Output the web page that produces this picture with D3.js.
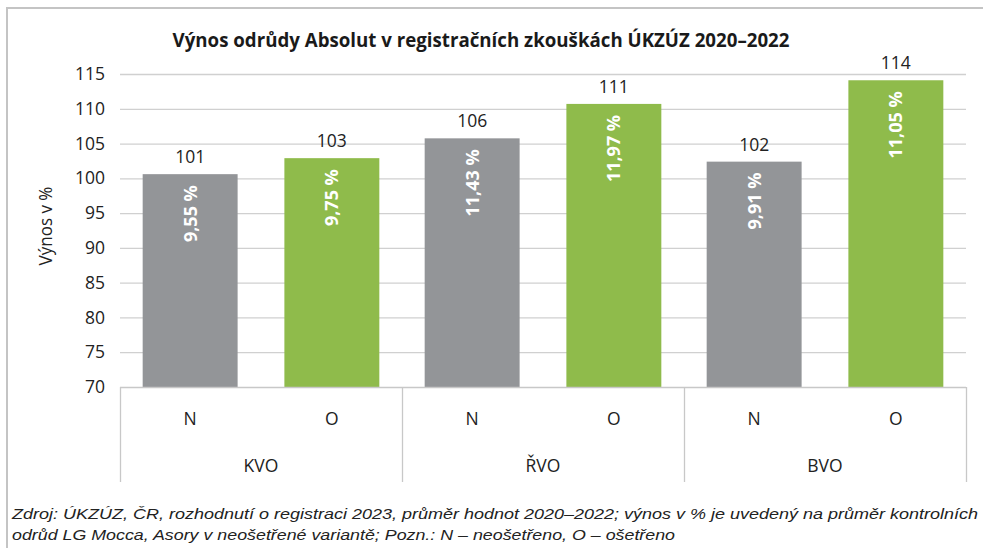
<!DOCTYPE html>
<html lang="cs">

<head>
    <meta charset="UTF-8" />
    <script type="text/javascript" src="https://cdn.jsdelivr.net/npm/d3@7"></script>
    <title>Výnos odrůdy Absolut</title>
    <style>
        body { margin: 0; background: #fff; }
        svg { display: block; }
    </style>
</head>

<body>
    <div id="chart"></div>

    <script type="text/javascript">
        // data
        var regions = ["KVO", "ŘVO", "BVO"];
        var variants = ["N", "O"];
        var yields = [100.6, 102.9, 105.75, 110.7, 102.4, 114.1];
        var valueLabels = ["101", "103", "106", "111", "102", "114"];
        var shareLabels = ["9,55 %", "9,75 %", "11,43 %", "11,97 %", "9,91 %", "11,05 %"];
        var yTicks = [70, 75, 80, 85, 90, 95, 100, 105, 110, 115];

        var W = 983, H = 548;
        var margin = { top: 74, right: 17, bottom: 161, left: 120 };
        var width = W - margin.left - margin.right,
            height = H - margin.top - margin.bottom;

        var colors = { N: "#939598", O: "#8fbb4b" };
        var font = "'Open Sans', sans-serif";

        var data = [];
        regions.forEach(function (r, i) {
            variants.forEach(function (v, j) {
                var k = i * variants.length + j;
                data.push({ region: r, variant: v, value: yields[k], label: valueLabels[k], share: shareLabels[k] });
            });
        });

        var svg = d3.select("#chart").append("svg")
            .attr("width", W)
            .attr("height", H);

        // frame
        svg.append("path")
            .attr("d", "M7,548V8H983")
            .attr("fill", "none")
            .attr("stroke", "#c4c4c4")
            .attr("stroke-width", 2);

        svg.append("text")
            .attr("x", 481)
            .attr("y", 47)
            .attr("text-anchor", "middle")
            .attr("font-family", font)
            .attr("font-weight", "bold")
            .attr("font-size", 19.5)
            .attr("fill", "#1a1a1a")
            .attr("textLength", 617)
            .attr("lengthAdjust", "spacingAndGlyphs")
            .text("Výnos odrůdy Absolut v registračních zkouškách ÚKZÚZ 2020–2022");

        var g = svg.append("g")
            .attr("transform", `translate(${margin.left}, ${margin.top})`);

        var y = d3.scaleLinear().domain([70, 115]).range([height, 0]);

        var x0 = d3.scaleBand().domain(regions).range([0, width]);
        var x1 = d3.scaleBand().domain(variants).range([0, x0.bandwidth()]).paddingInner(0.33).paddingOuter(0.16);

        // gridlines
        g.append("g")
            .selectAll("line")
            .data(yTicks.slice(1))
            .enter().append("line")
            .attr("x1", 0)
            .attr("x2", width)
            .attr("y1", d => y(d) + 0.5)
            .attr("y2", d => y(d) + 0.5)
            .attr("stroke", "#d0d0d0")
            .attr("stroke-width", 1.3);

        // y axis labels
        var yAxis = g.append("g")
            .call(d3.axisLeft(y).tickValues(yTicks).tickSize(0).tickPadding(15));
        yAxis.select(".domain").remove();
        yAxis.selectAll("text")
            .attr("font-family", font)
            .attr("font-size", 17.5)
            .attr("fill", "#222");

        g.append("text")
            .attr("transform", `translate(${46 - margin.left}, ${226 - margin.top}) rotate(-90) scale(0.92, 1)`)
            .attr("text-anchor", "middle")
            .attr("dy", "0.35em")
            .attr("font-family", font)
            .attr("font-size", 18.5)
            .attr("fill", "#222")
            .text("Výnos v %");

        // bars
        var bars = g.selectAll("g.bar")
            .data(data)
            .enter().append("g")
            .attr("class", "bar")
            .attr("transform", d => `translate(${x0(d.region) + x1(d.variant)}, 0)`);

        bars.append("rect")
            .attr("x", 0)
            .attr("y", d => y(d.value))
            .attr("width", x1.bandwidth())
            .attr("height", d => height - y(d.value))
            .attr("fill", d => colors[d.variant]);

        bars.append("text")
            .attr("x", x1.bandwidth() / 2)
            .attr("y", d => y(d.value) - 11)
            .attr("text-anchor", "middle")
            .attr("font-family", font)
            .attr("font-size", 17.5)
            .attr("fill", "#222")
            .text(d => d.label);

        bars.append("text")
            .attr("transform", d => `translate(${x1.bandwidth() / 2}, ${y(d.value) + 11}) rotate(-90)`)
            .attr("text-anchor", "end")
            .attr("dy", "0.36em")
            .attr("font-family", font)
            .attr("font-weight", "bold")
            .attr("font-size", 18)
            .attr("fill", "#fff")
            .text(d => d.share);

        // category axis (two levels)
        var axisG = g.append("g").attr("transform", `translate(0, ${height})`);
        axisG.append("line")
            .attr("x1", 0).attr("x2", width)
            .attr("y1", 0.5).attr("y2", 0.5)
            .attr("stroke", "#c8c8c8")
            .attr("stroke-width", 1.3);

        var seps = regions.map(r => x0(r)).concat([width]);
        axisG.selectAll("line.sep")
            .data(seps)
            .enter().append("line")
            .attr("class", "sep")
            .attr("x1", d => d + 0.5).attr("x2", d => d + 0.5)
            .attr("y1", 0).attr("y2", 95)
            .attr("stroke", "#c8c8c8")
            .attr("stroke-width", 1.3);

        axisG.selectAll("text.variant")
            .data(data)
            .enter().append("text")
            .attr("class", "variant")
            .attr("x", d => x0(d.region) + x1(d.variant) + x1.bandwidth() / 2)
            .attr("y", 32)
            .attr("dy", "0.35em")
            .attr("text-anchor", "middle")
            .attr("font-family", font)
            .attr("font-size", 17.5)
            .attr("fill", "#222")
            .text(d => d.variant);

        axisG.selectAll("text.region")
            .data(regions)
            .enter().append("text")
            .attr("class", "region")
            .attr("x", d => x0(d) + x0.bandwidth() / 2)
            .attr("y", 79)
            .attr("dy", "0.35em")
            .attr("text-anchor", "middle")
            .attr("font-family", font)
            .attr("font-size", 17.5)
            .attr("fill", "#222")
            .text(d => d);

        // source note
        var notes = [
            { t: "Zdroj: ÚKZÚZ, ČR, rozhodnutí o registraci 2023, průměr hodnot 2020–2022; výnos v % je uvedený na průměr kontrolních", len: 966, yy: 519 },
            { t: "odrůd LG Mocca, Asory v neošetřené variantě; Pozn.: N – neošetřeno, O – ošetřeno", len: 663, yy: 540 }
        ];
        svg.selectAll("text.note")
            .data(notes)
            .enter().append("text")
            .attr("class", "note")
            .attr("x", 12)
            .attr("y", d => d.yy)
            .attr("font-family", "'Liberation Sans', sans-serif")
            .attr("font-style", "italic")
            .attr("font-size", 15.5)
            .attr("fill", "#222")
            .attr("textLength", d => d.len)
            .attr("lengthAdjust", "spacingAndGlyphs")
            .text(d => d.t);
    </script>
</body>

</html>
